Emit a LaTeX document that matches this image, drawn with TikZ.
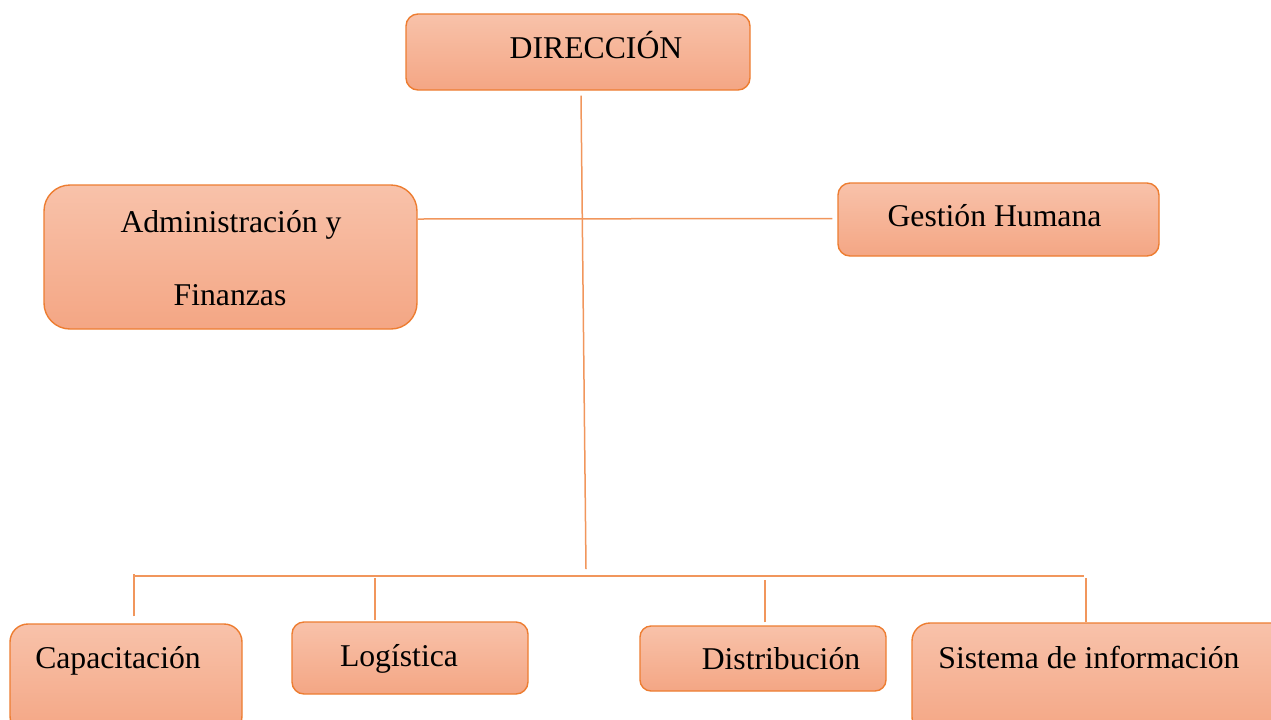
\documentclass[tikz,border=0pt]{standalone}
\usepackage{fontspec}
\setmainfont{Liberation Serif}
\definecolor{boxline}{RGB}{237,125,49}
\definecolor{boxtop}{RGB}{248,194,170}
\definecolor{boxbot}{RGB}{244,166,132}
\definecolor{linkline}{RGB}{241,150,92}
\begin{document}
\begin{tikzpicture}[x=0.5pt,y=-0.5pt,
  box/.style={draw=boxline, line width=0.7pt, top color=boxtop, bottom color=boxbot, inner sep=0pt},
  lbl/.style={anchor=base, inner sep=0pt, font=\fontsize{15.85}{19}\selectfont},
  link/.style={draw=linkline, line width=0.75pt}]
\useasboundingbox (0,0) rectangle (1271,719);
\clip (0,0) rectangle (1271,719);
% boxes
\node[box, rounded corners=6pt, minimum width=172pt, minimum height=38pt] (dir) at (578,52) {};
\node[box, rounded corners=13pt, minimum width=186.5pt, minimum height=72pt] (admin) at (230.5,257) {};
\node[box, rounded corners=6pt, minimum width=160.5pt, minimum height=36.5pt] (gestion) at (998.5,219.5) {};
\node[box, rounded corners=9pt, minimum width=116pt, minimum height=55pt] (capac) at (126,679) {};
\node[box, rounded corners=6pt, minimum width=118pt, minimum height=36pt] (logis) at (410,658) {};
\node[box, rounded corners=5.5pt, minimum width=123pt, minimum height=32.5pt] (distrib) at (763,658.5) {};
\node[box, rounded corners=9pt, minimum width=189pt, minimum height=56pt] (sistema) at (1101,679) {};
% texts
\node[lbl] (dirT) at (596,58) {DIRECCIÓN};
\node[lbl] (adminA) at (231,232) {Administración y};
\node[lbl] (adminB) at (230,305) {Finanzas};
\node[lbl] (gestionT) at (994.5,226) {Gestión Humana};
\node[lbl] (capacT) at (118,668) {Capacitación};
\node[lbl] (logisT) at (399,666) {Logística};
\node[lbl] (distribT) at (781,669) {Distribución};
\node[lbl] (sistemaT) at (1089,668) {Sistema de información};
% lines
\coordinate (hub) at (586,569);
\coordinate (busL) at (134,576);
\coordinate (busR) at (1084,576);
\draw[link] ([shift={(3,5)}]dir.south) -- (hub);
\draw[link] ([yshift=19pt]admin.east) -- ([shift={(-5,-1)}]gestion.west);
\draw[link, line width=1pt] (busL) -- (busR);
\draw[link] ([shift={(8,-7)}]capac.north) -- ++(0,-42);
\draw[link] ([shift={(-35,-1)}]logis.north) -- ++(0,-42);
\draw[link] ([shift={(2,-3)}]distrib.north) -- ++(0,-42);
\draw[link] ([shift={(-15,0)}]sistema.north) -- ++(0,-44);
\end{tikzpicture}
\end{document}
